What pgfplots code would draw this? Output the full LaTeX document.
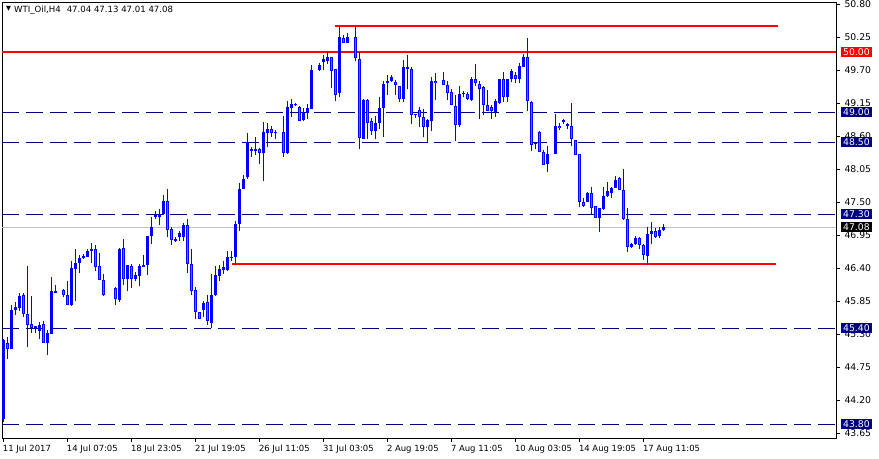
\documentclass[border=0pt]{standalone}
\usepackage{fontspec}
\setmainfont{DejaVu Sans}
\usepackage{pgfplots}
\usepackage{pgfplotstable}
\pgfplotsset{compat=1.18}
\definecolor{mtblue}{RGB}{0,0,255}
\definecolor{mtbear}{RGB}{255,69,0}
\definecolor{mtnavy}{RGB}{0,0,128}
\definecolor{mtsilver}{RGB}{192,192,192}

% H4 candles, k = bar position (4 px per bar)
\pgfplotstableread{
k o h l c
0 43.88 45.22 43.83 45.20
1 45.15 45.25 44.88 45.05
2 45.05 45.78 45.05 45.70
3 45.70 45.83 45.62 45.75
4 45.73 45.98 45.68 45.93
5 45.95 45.98 45.58 45.63
6 45.63 46.43 45.08 45.45
7 45.47 45.93 45.32 45.40
8 45.40 45.43 45.32 45.43
9 45.35 45.50 45.22 45.45
10 45.47 45.52 45.15 45.15
11 45.15 45.37 44.95 45.32
12 45.30 46.25 45.30 46.02
13 45.98 46.12 45.98 46.02
15 46.03 46.05 45.92 45.95
16 45.95 46.18 45.78 45.78
17 45.78 46.52 45.77 46.40
18 46.38 46.72 45.85 46.48
19 46.48 46.62 46.32 46.57
20 46.57 46.63 46.55 46.60
21 46.58 46.72 46.58 46.68
22 46.68 46.82 46.48 46.72
23 46.72 46.78 46.35 46.42
24 46.43 46.65 46.20 46.20
25 46.20 46.30 45.93 45.95
28 46.07 46.08 45.78 45.88
29 45.87 46.73 45.83 46.72
30 46.73 46.88 46.12 46.22
31 46.22 46.45 46.02 46.45
32 46.43 46.47 46.07 46.22
33 46.22 46.33 46.18 46.28
34 46.27 46.47 46.10 46.43
35 46.42 46.62 46.42 46.45
36 46.45 46.93 46.28 46.93
37 46.93 47.25 46.80 47.08
38 47.25 47.35 47.22 47.28
39 47.25 47.38 47.12 47.30
40 47.30 47.62 47.28 47.52
41 47.52 47.72 46.92 47.03
42 47.05 47.08 46.78 46.87
43 46.85 46.92 46.83 46.88
44 46.92 47.02 46.85 46.98
45 46.92 47.15 46.85 47.12
46 47.12 47.22 46.32 46.47
47 46.47 46.72 45.95 46.02
48 46.03 46.08 45.55 45.67
49 45.67 45.67 45.55 45.55
50 45.70 45.85 45.58 45.82
51 45.83 45.95 45.45 45.52
52 45.48 46.30 45.40 45.95
53 45.95 46.43 45.93 46.28
54 46.27 46.45 46.18 46.38
55 46.37 46.52 46.30 46.42
56 46.37 46.68 46.35 46.58
57 46.57 46.68 46.52 46.58
58 46.58 47.18 46.45 47.13
59 47.13 47.82 47.02 47.72
60 47.72 47.95 47.72 47.88
61 47.92 48.65 47.88 48.50
62 48.35 48.42 48.25 48.38
63 48.38 48.58 48.28 48.35
64 48.38 48.40 48.13 48.32
65 48.32 48.83 47.85 48.67
66 48.65 48.82 48.42 48.72
67 48.72 48.77 48.58 48.65
68 48.65 48.70 48.55 48.67
70 48.67 48.93 48.25 48.32
71 48.32 49.18 48.30 49.08
72 49.07 49.22 48.92 49.13
73 49.12 49.15 49.10 49.13
74 49.08 49.10 48.85 48.85
75 48.87 49.07 48.85 48.98
76 48.98 49.13 48.88 49.07
77 49.05 49.78 49.05 49.70
79 49.70 49.82 49.68 49.78
80 49.83 49.95 49.70 49.88
81 49.85 50.02 49.80 49.92
82 49.92 49.92 49.40 49.68
83 49.72 49.72 49.18 49.28
84 49.32 50.42 49.25 50.25
85 50.23 50.28 50.15 50.15
86 50.15 50.32 50.15 50.25
88 50.25 50.42 49.85 49.90
89 49.88 50.00 48.38 48.57
90 48.55 49.22 48.55 49.20
91 49.20 49.22 48.55 48.82
92 48.85 48.90 48.62 48.68
93 48.68 48.93 48.55 48.82
94 48.82 49.25 48.72 49.07
95 49.07 49.52 48.58 49.47
96 49.48 49.62 49.28 49.52
97 49.52 49.62 49.50 49.58
98 49.50 49.53 49.28 49.45
99 49.43 49.43 49.17 49.22
100 49.22 49.87 49.17 49.75
101 49.72 49.95 49.38 49.75
102 49.72 49.75 48.80 48.95
103 48.95 48.97 48.90 48.97
104 49.03 49.08 48.75 48.92
105 48.92 49.05 48.58 48.75
106 48.75 48.88 48.48 48.87
107 48.85 49.58 48.68 49.52
108 49.52 49.65 49.20 49.48
110 49.53 49.67 49.45 49.45
111 49.45 49.52 49.20 49.32
112 49.33 49.38 49.12 49.12
113 49.10 49.28 48.52 48.78
114 48.78 49.43 48.75 49.30
115 49.30 49.35 49.25 49.32
116 49.30 49.33 49.20 49.22
117 49.20 49.58 49.18 49.55
118 49.55 49.80 49.43 49.48
119 49.47 49.52 48.88 49.38
120 49.42 49.43 48.95 49.12
121 49.12 49.37 49.02 49.02
122 49.08 49.12 48.88 49.02
123 49.00 49.22 48.92 49.18
124 49.15 49.55 49.13 49.55
125 49.55 49.67 49.17 49.25
126 49.25 49.55 49.17 49.55
127 49.55 49.72 49.50 49.68
128 49.62 49.67 49.48 49.55
129 49.55 49.82 49.48 49.77
130 49.75 49.97 49.75 49.92
131 49.92 50.23 49.02 49.18
132 49.17 49.18 48.35 48.45
133 48.48 48.48 48.38 48.47
134 48.67 48.68 48.33 48.33
135 48.33 48.37 48.12 48.12
136 48.13 48.43 48.00 48.30
138 48.30 48.97 48.30 48.77
139 48.77 48.82 48.70 48.73
140 48.83 48.88 48.80 48.87
141 48.80 48.82 48.72 48.77
142 48.77 49.15 48.43 48.55
143 48.53 48.53 48.28 48.28
144 48.30 48.30 47.42 47.50
145 47.50 47.57 47.42 47.43
146 47.50 47.67 47.50 47.65
147 47.65 47.75 47.30 47.40
148 47.43 47.43 47.23 47.23
149 47.23 47.40 47.00 47.40
150 47.38 47.75 47.37 47.60
151 47.60 47.83 47.58 47.68
152 47.65 47.75 47.57 47.73
153 47.73 47.93 47.73 47.87
154 47.90 47.92 47.70 47.70
155 47.70 48.05 47.20 47.22
156 47.22 47.40 46.67 46.75
157 46.75 46.82 46.73 46.80
158 46.80 46.93 46.78 46.90
159 46.90 46.92 46.72 46.78
160 46.78 46.80 46.53 46.62
161 46.60 47.08 46.45 46.97
162 46.97 47.17 46.80 47.02
163 47.02 47.07 46.90 46.92
164 46.93 47.08 46.90 47.03
165 47.04 47.13 47.01 47.08
}\candles

\begin{document}
\begin{tikzpicture}
\begin{axis}[
    at={(2bp,21bp)}, anchor=south west,
    scale only axis,
    width=834bp, height=435bp,
    xmin=-0.325, xmax=208.175,
    ymin=43.567, ymax=50.817,
    axis line style={black, line width=1bp},
    tick style={black, line width=0.8bp},
    tick align=outside,
    major tick length=4bp,
    xtick pos=bottom,
    ytick pos=right,
    xtick={0,16,32,48,64,80,96,112,128,144,160},
    xticklabels={11 Jul 2017, 14 Jul 07:05, 18 Jul 23:05, 21 Jul 19:05, 26 Jul 11:05, 31 Jul 03:05, 2 Aug 19:05, 7 Aug 11:05, 10 Aug 03:05, 14 Aug 19:05, 17 Aug 11:05},
    xticklabel style={anchor=north west, inner xsep=0pt, xshift=-0.5bp, font=\fontsize{8.5}{10}\selectfont},
    ytick={43.65,44.2,44.75,45.3,45.85,46.4,46.95,47.5,48.05,48.6,49.15,49.7,50.25,50.8},
    yticklabel style={anchor=west, xshift=1bp, font=\fontsize{9.3}{10}\selectfont,
        /pgf/number format/fixed, /pgf/number format/fixed zerofill, /pgf/number format/precision=2},
    /pgf/number format/assume math mode=true,
    ticklabel style={text=black},
    clip=false,
]
% level lines
\addplot[mtnavy, line width=1bp, dash pattern=on 17bp off 7bp, forget plot] coordinates {(-0.325,49.00) (208.175,49.00)};
\addplot[mtnavy, line width=1bp, dash pattern=on 17bp off 7bp, forget plot] coordinates {(-0.325,48.50) (208.175,48.50)};
\addplot[mtnavy, line width=1bp, dash pattern=on 17bp off 7bp, forget plot] coordinates {(-0.325,47.30) (208.175,47.30)};
\addplot[mtnavy, line width=1bp, dash pattern=on 17bp off 7bp, forget plot] coordinates {(-0.325,45.40) (208.175,45.40)};
\addplot[mtnavy, line width=1bp, dash pattern=on 17bp off 7bp, forget plot] coordinates {(-0.325,43.80) (208.175,43.80)};
\addplot[mtsilver, line width=1bp, forget plot] coordinates {(-0.325,47.08) (208.175,47.08)};
\addplot[red, line width=2bp, forget plot] coordinates {(-0.325,50.00) (208.175,50.00)};
\addplot[red, line width=2bp, forget plot] coordinates {(82.9,50.44) (193.6,50.44)};
\addplot[red, line width=2bp, forget plot] coordinates {(57.1,46.47) (193.1,46.47)};

% wicks
\addplot[draw=none, mark=none, forget plot,
    error bars/.cd, y dir=plus, y explicit, error mark=none,
    error bar style={draw=mtblue, line width=1bp}]
    table[x=k, y=l, y error plus expr={\thisrow{h}-\thisrow{l}}] {\candles};
% bodies
\addplot[draw=none, mark=none, forget plot,
    error bars/.cd, y dir=plus, y explicit, error mark=none,
    error bar style={draw=mtblue, line width=3bp}]
    table[x=k, y expr={min(\thisrow{o},\thisrow{c})},
          y error plus expr={max(abs(\thisrow{c}-\thisrow{o}),0.017)}] {\candles};
% bear fill
\addplot[draw=none, mark=none, forget plot,
    restrict expr to domain={\thisrow{o}-\thisrow{c}}{0.04:100},
    error bars/.cd, y dir=plus, y explicit, error mark=none,
    error bar style={draw=mtbear, line width=1bp}]
    table[x=k, y expr={\thisrow{c}+0.0167},
          y error plus expr={\thisrow{o}-\thisrow{c}-0.0333}] {\candles};

\coordinate (t5000) at (axis cs:208.175,50.00);
\coordinate (t4900) at (axis cs:208.175,49.00);
\coordinate (t4850) at (axis cs:208.175,48.50);
\coordinate (t4730) at (axis cs:208.175,47.30);
\coordinate (t4708) at (axis cs:208.175,47.08);
\coordinate (t4540) at (axis cs:208.175,45.40);
\coordinate (t4380) at (axis cs:208.175,43.80);
\end{axis}

\tikzset{tag/.style={anchor=west, xshift=5bp, text=white, inner xsep=2bp, inner ysep=0pt,
    minimum height=10bp, font=\fontsize{9.3}{10}\selectfont}}
\node[tag, fill=red] at (t5000) {50.00};
\node[tag, fill=mtnavy] at (t4900) {49.00};
\node[tag, fill=mtnavy] at (t4850) {48.50};
\node[tag, fill=mtnavy] at (t4730) {47.30};
\node[tag, fill=black] at (t4708) {47.08};
\node[tag, fill=mtnavy] at (t4540) {45.40};
\node[tag, fill=mtnavy] at (t4380) {43.80};

\node[anchor=west, inner sep=0pt, font=\fontsize{8.6}{10}\selectfont] at (6bp,449bp)
    {\raisebox{0.3ex}{\scalebox{0.75}{▼}}\hspace{3bp}WTI\_Oil,H4\hspace{6bp}47.04 47.13 47.01 47.08};

\pgfresetboundingbox
\path[use as bounding box] (0,0) rectangle (879bp,459bp);
\end{tikzpicture}
\end{document}
